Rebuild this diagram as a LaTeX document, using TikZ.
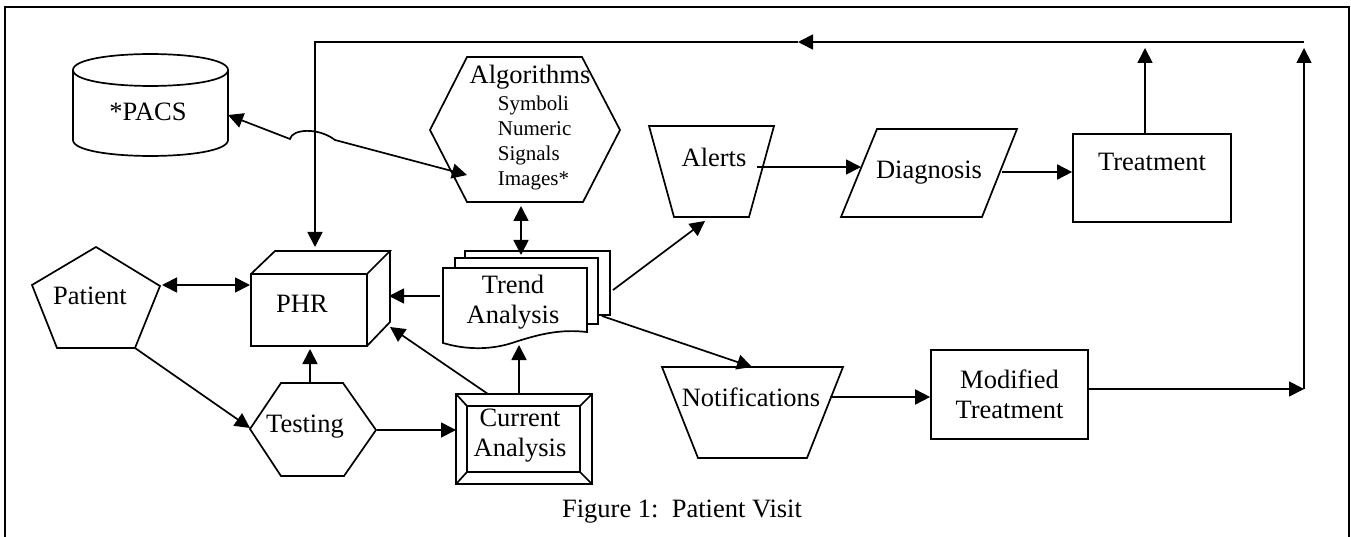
\documentclass[tikz,border=0pt]{standalone}
\usepackage{fontspec}
\setmainfont{Liberation Serif}
\usetikzlibrary{arrows.meta,calc}
\frenchspacing
\begin{document}
\begin{tikzpicture}[x=1pt,y=1pt,yscale=-1,line width=1.7pt,line join=miter,
  tip/.tip={Triangle[length=15pt,width=15pt]},
  conn/.style={-tip},
  dconn/.style={tip-tip},
  lbl/.style={inner sep=0pt,font=\fontsize{26.5}{30}\selectfont},
  sub/.style={inner sep=0pt,font=\fontsize{21}{25}\selectfont},
  boxed/.style={draw,rectangle,inner xsep=0pt,font=\fontsize{26.5}{30}\selectfont}]
\useasboundingbox (0,0) rectangle (1351,537);
% frame
\draw (5,545) -- (5,7) -- (1349,7) -- (1349,545);

% ---- shapes ----
% PACS cylinder
\draw (73,70) .. controls (73,48.7) and (228,48.7) .. (228,70)
      .. controls (228,91.3) and (73,91.3) .. (73,70);
\draw (73,70) -- (73,140) .. controls (73,161.3) and (228,161.3) .. (228,140) -- (228,70);
% Algorithms hexagon
\draw (430,130) -- (467,57) -- (582,57) -- (620,130) -- (583,202) -- (467,202) -- cycle;
% Patient pentagon
\draw (96,247) -- (160,286) -- (135,348) -- (57,348) -- (32,285) -- cycle;
% PHR cube
\draw (251,274) rectangle (367,346);
\draw (251,274) -- (275,251) -- (390,251) -- (367,274);
\draw (390,251) -- (390,322) -- (367,346);
% Testing hexagon
\draw (250,429) -- (281,383) -- (343,383) -- (376,430) -- (344,476) -- (281,476) -- cycle;
% Current Analysis frame
\draw (456,394) rectangle (592,484);
\draw (467,406) rectangle (580,472);
\draw (456,394) -- (467,406) (592,394) -- (580,406) (456,484) -- (467,472) (592,484) -- (580,472);
% Trend Analysis multi-document
\draw (465,258) -- (465,251) -- (610,251) -- (610,315) -- (598,315);
\draw (455,268) -- (455,258) -- (598,258) -- (598,324) -- (587,324);
\draw (443,268) -- (587,268) -- (587,332) .. controls (560,329) and (540,334) .. (515,342)
      .. controls (495,349) and (470,351) .. (443,343) -- cycle;
% Alerts
\draw (649,126) -- (774,126) -- (749,217) -- (674,217) -- cycle;
% Diagnosis
\draw (877,129) -- (1017,129) -- (982,217) -- (841,217) -- cycle;
% Notifications
\draw (662,367) -- (843,367) -- (807,458) -- (698,458) -- cycle;

% ---- texts ----
\node[lbl,anchor=base] (pacsT) at (148,121) {*PACS};
\node[lbl,anchor=base] (algT) at (530,84) {Algorithms};
\node[sub,anchor=north west,align=left] (algL) at (497,95) {Symboli\\Numeric\\Signals\\Images*};
\node[lbl,anchor=base] (patT) at (90,304) {Patient};
\node[lbl,anchor=base] (phrT) at (302,312) {PHR};
\node[lbl,anchor=base] (testT) at (305,432) {Testing};
\node[lbl,align=center] (trendT) at (513,302) {Trend\\Analysis};
\node[lbl,align=center] (curT) at (520,436) {Current\\Analysis};
\node[lbl,anchor=base] (alertT) at (714,167) {Alerts};
\node[lbl,anchor=base] (diagT) at (929,179) {Diagnosis};
\node[lbl,anchor=base] (notT) at (751,406) {Notifications};
\node[boxed,minimum width=158,minimum height=88,text height=18pt,text depth=32pt,inner ysep=19pt] (treat) at (1152,178) {Treatment};
\node[boxed,minimum width=157,minimum height=89,align=center] (mod) at (1009.5,394.5) {Modified\\Treatment};
\node[lbl,anchor=base] (cap) at (682,517) {Figure 1:\ \ Patient Visit};

% ---- connection points ----
\coordinate (loopTR) at (1304,42);
\coordinate (loopMid) at (798,42);
\coordinate (loopTL) at (315,42);
\coordinate (phrIn) at (315,247);
\coordinate (trUpTop) at (1145,48);
\coordinate (rv) at (1304,389);
\coordinate (rvTop) at (1304,48);
\coordinate (patE) at (162,285);
\coordinate (phrW) at (250,285);
\coordinate (patBR) at (135,348);
\coordinate (testW) at (250,428);
\coordinate (testN) at (310,383);
\coordinate (phrS) at (310,349);
\coordinate (testE) at (377,430);
\coordinate (curW) at (456,430);
\coordinate (curNW) at (488,394);
\coordinate (phrSE) at (390,327);
\coordinate (curN) at (519,394);
\coordinate (trendS) at (519,345);
\coordinate (trendW) at (440,296);
\coordinate (phrE) at (389,296);
\coordinate (algS) at (521,206);
\coordinate (trendN) at (521,255);
\coordinate (pacsE) at (228,115);
\coordinate (jumpA) at (290,139);
\coordinate (jumpB) at (335,140);
\coordinate (algW) at (467,175);
\coordinate (trendNE) at (613,290);
\coordinate (alertS) at (705,221);
\coordinate (trendSE) at (602,316);
\coordinate (notN) at (752,367);
\coordinate (alertE) at (757,167);
\coordinate (diagW) at (861,167);
\coordinate (diagE) at (1002,172);
\coordinate (notE) at (830,397);

% ---- connectors ----
\draw[conn] (loopTR) -- (loopMid);
\draw[conn] (loopMid) -- (loopTL) -- (phrIn);
\draw[conn] (treat.north -| trUpTop) -- (trUpTop);
\draw[conn] (mod.east |- rv) -- (rv);
\draw[conn] (rv) -- (rvTop);
\draw[dconn] (patE) -- (phrW);
\draw[conn] (patBR) -- (testW);
\draw[conn] (testN) -- (phrS);
\draw[conn] (testE) -- (curW);
\draw[conn] (curNW) -- (phrSE);
\draw[conn] (curN) -- (trendS);
\draw[conn] (trendW) -- (phrE);
\draw[dconn] (algS) -- (trendN);
\draw[dconn] (pacsE) -- (jumpA) .. controls (292,129) and (318,127) .. (jumpB) -- (algW);
\draw[conn] (trendNE) -- (alertS);
\draw[conn] (trendSE) -- (notN);
\draw[conn] (alertE) -- (diagW);
\draw[conn] (diagE) -- (treat.west |- diagE);
\draw[conn] (notE) -- (mod.west |- notE);
\end{tikzpicture}
\end{document}
